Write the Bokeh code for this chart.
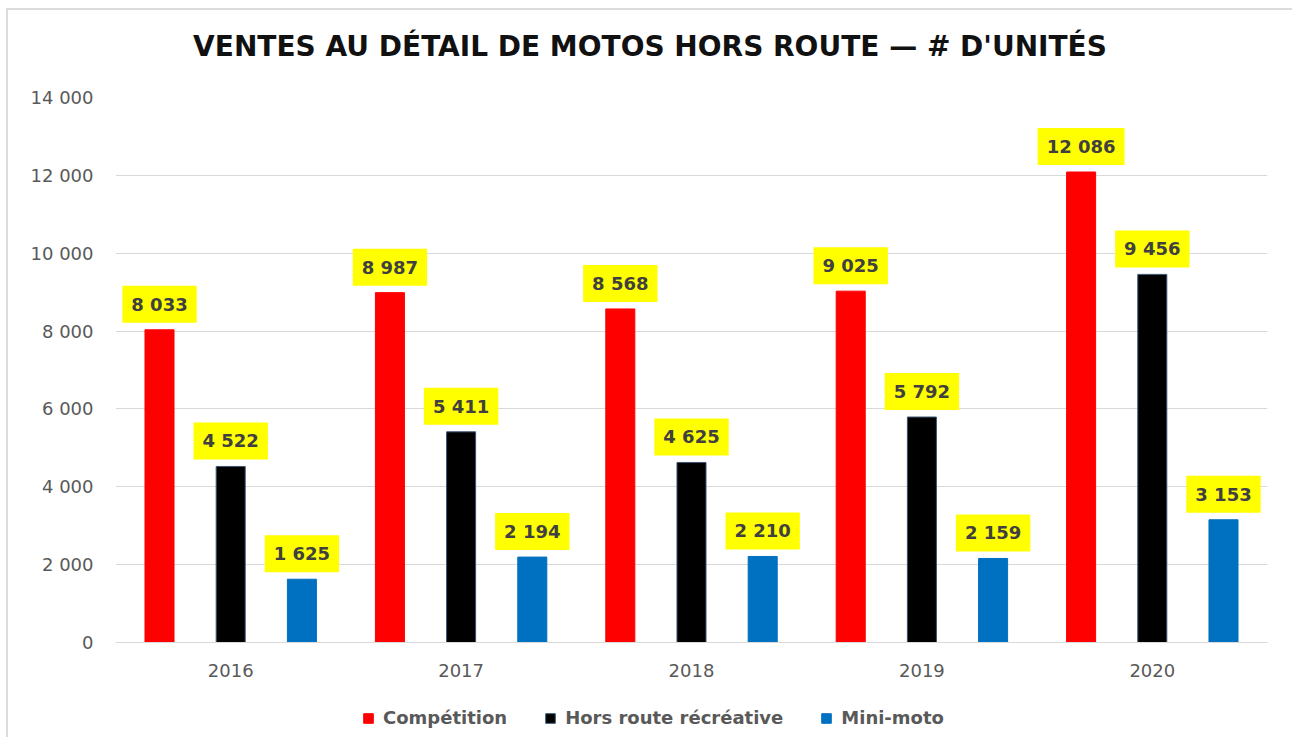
from bokeh.plotting import figure
from bokeh.layouts import column
from bokeh.models import (ColumnDataSource, FactorRange, FixedTicker, CustomJSTickFormatter,
                          Legend, LegendItem, Range1d, Div)
from bokeh.transform import dodge
from bokeh.core.properties import value
from bokeh.embed import file_html
from bokeh.resources import INLINE

# ---- data ----
years = ["2016", "2017", "2018", "2019", "2020"]
competition = [8033, 8987, 8568, 9025, 12086]
hors_route = [4522, 5411, 4625, 5792, 9456]
mini_moto = [1625, 2194, 2210, 2159, 3153]
series_names = ["Compétition", "Hors route récréative", "Mini-moto"]
y_ticks = [0, 2000, 4000, 6000, 8000, 10000, 12000, 14000]
title_text = "VENTES AU DÉTAIL DE MOTOS HORS ROUTE — # D'UNITÉS"

colors = ["#FF0000", "#000000", "#0070C0"]
outlines = ["#FF0000", "#3B5573", "#0070C0"]
offsets = [-0.309, 0.0, 0.309]


def fmt(v):
    return f"{v:,}".replace(",", " ")


data = {"year": years}
for i, vals in enumerate([competition, hors_route, mini_moto]):
    data[f"v{i}"] = vals
    data[f"l{i}"] = [fmt(v) for v in vals]
source = ColumnDataSource(data)

FONT = "DejaVu Sans"

title_div = Div(text=title_text, render_as_text=True, width=1284, height=74, margin=0,
                styles={"font-family": FONT, "font-size": "28px", "font-weight": "bold",
                        "text-align": "center", "line-height": "74px", "color": "#111111",
                        "background-color": "white"})

p = figure(width=1284, height=613, output_backend="svg", toolbar_location=None,
           x_range=FactorRange(factors=years, range_padding=0),
           y_range=Range1d(0, 14000),
           min_border_left=107, min_border_right=25, min_border_top=13, min_border_bottom=55)

p.outline_line_color = None
p.background_fill_color = "white"
p.border_fill_color = "white"

p.xgrid.grid_line_color = None
p.ygrid.grid_line_color = "#d9d9d9"
p.ygrid.grid_line_width = 1
p.yaxis.ticker = FixedTicker(ticks=y_ticks)
p.yaxis.formatter = CustomJSTickFormatter(
    code='return tick.toString().replace(/\\B(?=(\\d{3})+(?!\\d))/g, " ");')
p.yaxis.axis_line_color = None
p.yaxis.major_tick_line_color = None
p.yaxis.minor_tick_line_color = None
p.yaxis.major_label_standoff = 16
p.xaxis.axis_line_color = "#d9d9d9"
p.xaxis.major_tick_line_color = None
p.xaxis.minor_tick_line_color = None
p.xaxis.major_label_standoff = 15
for ax in (p.xaxis, p.yaxis):
    ax.major_label_text_font = FONT
    ax.major_label_text_font_size = "18px"
    ax.major_label_text_color = "#595959"

for i in range(3):
    p.vbar(x=dodge("year", offsets[i], range=p.x_range), top=f"v{i}", width=0.126,
           source=source, fill_color=colors[i], line_color=outlines[i], line_width=1)
    p.text(x=dodge("year", offsets[i], range=p.x_range), y=f"v{i}", text=f"l{i}",
           source=source, text_align="center", text_baseline="bottom", y_offset=-7,
           text_font=value(FONT), text_font_style="bold", text_font_size="18px",
           text_color="#404040", background_fill_color="#FFFF00", padding=(9, 8))

# legend strip below the chart (swatch renderers sit outside the visible range)
lf = figure(width=1284, height=40, output_backend="svg", toolbar_location=None,
            x_axis_type=None, y_axis_type=None, min_border=0,
            x_range=Range1d(0, 1), y_range=Range1d(0, 1))
lf.outline_line_color = None
lf.grid.visible = False
lf.background_fill_color = "white"
lf.border_fill_color = "white"
items = []
for i in range(3):
    r = lf.vbar(x=[-5], bottom=[-6], top=[-5], width=0.1,
                fill_color=colors[i], line_color=outlines[i])
    items.append(LegendItem(label=series_names[i], renderers=[r]))
legend = Legend(items=items, orientation="horizontal", location=(247, 9),
                border_line_color=None, background_fill_alpha=0,
                glyph_width=12, glyph_height=12, label_standoff=9, spacing=37,
                label_text_font=FONT, label_text_font_size="18px",
                label_text_font_style="bold", label_text_color="#595959",
                margin=0, padding=4)
lf.add_layout(legend)

layout = column(title_div, p, lf, spacing=0)
layout.styles = {"margin-left": "6px", "margin-top": "8px",
                 "border-left": "2px solid #dcdcdc", "border-top": "2px solid #dcdcdc"}

open("out.html", "w").write(file_html(layout, INLINE))
